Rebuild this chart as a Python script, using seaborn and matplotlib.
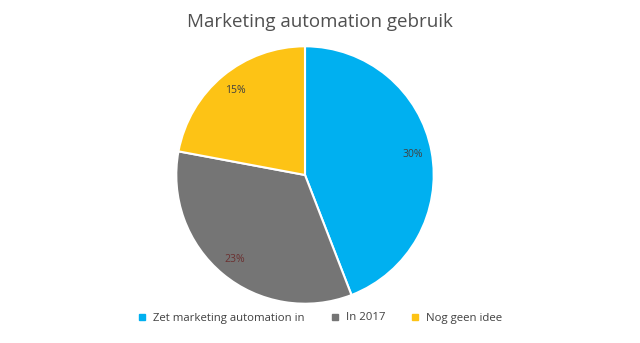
import matplotlib
matplotlib.use("Agg")
import matplotlib.pyplot as plt
import seaborn as sns
from matplotlib.lines import Line2D

categories = ["Zet marketing automation in", "In 2017", "Nog geen idee"]
values = [30, 23, 15]
labels_pct = ["30%", "23%", "15%"]
colors = ["#00B0F0", "#757575", "#FDC315"]
label_colors = ["#404040", "#6B3030", "#404040"]

sns.set_theme(style="white")
plt.rcParams['font.family'] = ['Open Sans', 'DejaVu Sans']

fig = plt.figure(figsize=(6.4, 3.43), dpi=100)
cx, cy, r = 305 / 640, (343 - 175) / 343, 130
ax = fig.add_axes([cx - r / 640, cy - r / 343, 2 * r / 640, 2 * r / 343])
pal = sns.color_palette(colors)

wedges, texts = ax.pie(values, colors=pal, startangle=90, counterclock=False,
                       labels=labels_pct, labeldistance=0.85,
                       wedgeprops=dict(edgecolor="white", linewidth=1.5),
                       textprops=dict(fontsize=7.5))
for t, c in zip(texts, label_colors):
    t.set_color(c)
    t.set_ha("center")
    t.set_va("center")
ax.set_xlim(-1.01, 1.01)
ax.set_ylim(-1.01, 1.01)
ax.set_aspect("equal")
ax.axis("off")

fig.text(0.5, 1 - 22 / 343, "Marketing automation gebruik", ha="center", va="center",
         fontsize=13.5, color="#505050", fontweight="normal")

handles = [Line2D([0], [0], marker="s", linestyle="none", markersize=4,
                  markerfacecolor=c, markeredgecolor=c) for c in colors]
fig.legend(handles, categories, loc="center", bbox_to_anchor=(0.5, 1 - 318 / 343),
           ncol=3, frameon=False, fontsize=8.2, labelcolor="#404040",
           handlelength=0.8, handletextpad=0.6, columnspacing=2.2)

fig.savefig("out.png", dpi=100, facecolor="white")
